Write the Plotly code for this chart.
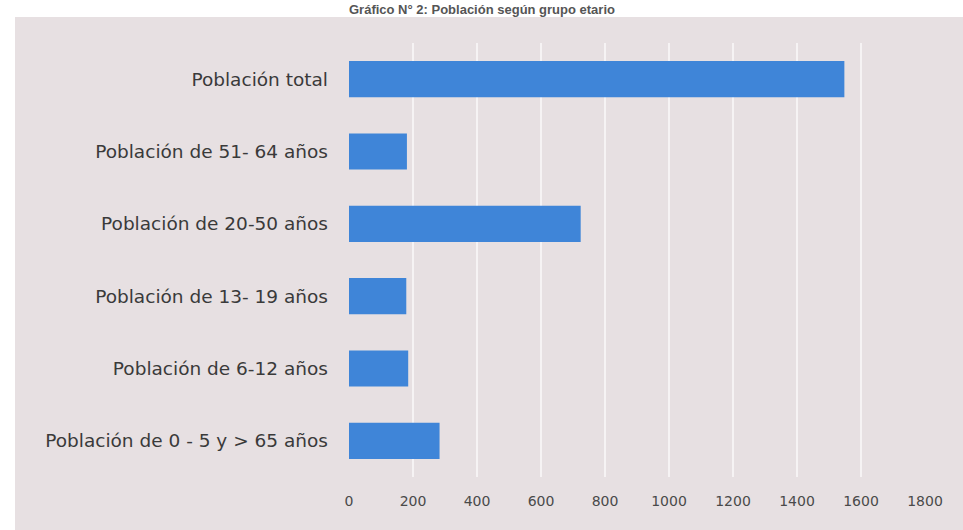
import plotly.graph_objects as go

categorias = [
    "Población total",
    "Población de 51- 64 años",
    "Población de 20-50 años",
    "Población de 13- 19 años",
    "Población de 6-12 años",
    "Población de 0 - 5 y > 65 años",
]
valores = [1548, 181, 724, 179, 185, 283]
ticks_x = [0, 200, 400, 600, 800, 1000, 1200, 1400, 1600, 1800]
titulo = "Gráfico N° 2: Población según grupo etario"

W, H = 963, 530
ml, mr, mt, mb = 349, 38, 43, 53
pw, ph = W - ml - mr, H - mt - mb

fig = go.Figure(go.Bar(
    x=valores, y=categorias, orientation="h",
    marker=dict(color="#3f85d8", line=dict(width=0)),
    width=0.5,
))

bg = "#e7e0e2"
fig.update_layout(
    width=W, height=H,
    margin=dict(l=ml, r=mr, t=mt, b=mb),
    paper_bgcolor="white", plot_bgcolor=bg,
    showlegend=False,
    font=dict(family="Open Sans", color="#4a4a4a"),
    shapes=[dict(
        type="rect", xref="paper", yref="paper", layer="below",
        x0=(15 - ml) / pw, x1=(W - ml) / pw + 0.01,
        y0=-(mb) / ph - 0.01, y1=1 + (mt - 17) / ph,
        fillcolor=bg, line=dict(width=0),
    )],
    annotations=[dict(
        text="<b>" + titulo + "</b>", xref="paper", yref="paper",
        x=(482 - ml) / pw, y=1 + (mt - 9) / ph, xanchor="center", yanchor="middle",
        showarrow=False, font=dict(family="Liberation Sans", size=13, color="#555555"),
    )],
)
fig.update_xaxes(
    range=[0, 1800], tickvals=ticks_x, showgrid=True, gridcolor="#f6f3f4", gridwidth=1.5,
    zeroline=False, showline=False, ticks="", ticklabelstandoff=14,
    tickfont=dict(family="DejaVu Sans", size=14, color="#4a4a4a"),
)
fig.update_yaxes(
    autorange="reversed", showgrid=False, showline=False, ticks="",
    ticklabelstandoff=20, tickfont=dict(family="DejaVu Sans", size=18.5, color="#3a3a3a"),
)

fig.write_html("out.html")
